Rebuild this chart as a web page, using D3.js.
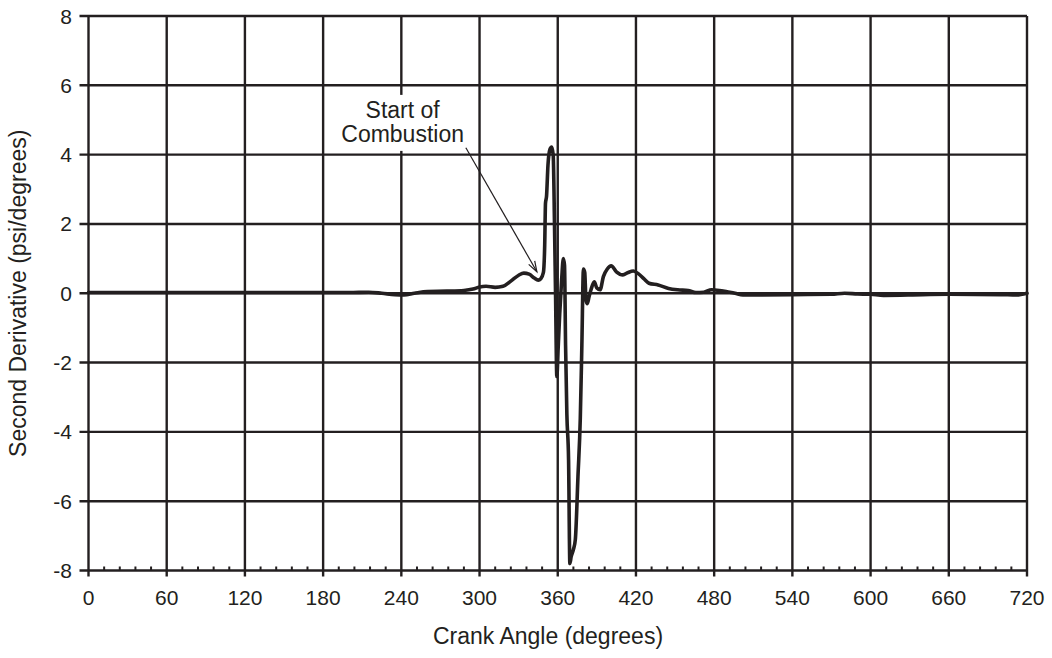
<!DOCTYPE html>
<html>
<head>
<meta charset="utf-8">
<script src="https://cdn.jsdelivr.net/npm/d3@7"></script>
<style>
  html, body { margin: 0; padding: 0; background: #fff; }
  svg { display: block; }
  text { font-family: "Liberation Sans", Arial, Helvetica, sans-serif; fill: #231f20; }
</style>
</head>
<body>
<svg id="chart" width="1052" height="658"></svg>
<script>
// Crank angle (degrees) and second derivative of cylinder pressure (psi/deg^2)
const crankAngle = [
  0, 30, 60, 90, 120, 150, 180, 200, 215, 225, 235, 242, 250, 260, 275, 288, 295,
  300, 305, 312, 318, 324, 330, 334, 338, 342, 345, 347, 349, 350, 350.6, 351.4,
  352.5, 354, 355.3, 356.5, 357.5, 358.3, 359.3, 360.3, 361.5, 363, 364.3, 365.2,
  366, 367, 368.3, 369.3, 370.3, 372, 373.5, 375.5, 377.3, 378.5,
  379.7, 380.7, 381.7, 382.7, 384, 385.5, 388, 390, 392.5, 395, 398, 401, 405,
  410, 414, 418, 422, 426, 430, 437, 445, 452, 460, 466, 472, 478, 484, 490, 496,
  502, 540, 570, 580, 590, 600, 610, 640, 660, 700, 712, 720
];
const secondDerivative = [
  0.02, 0.02, 0.02, 0.02, 0.02, 0.02, 0.02, 0.02, 0.03, 0.0, -0.04, -0.05, 0.0, 0.05, 0.06, 0.08, 0.12,
  0.18, 0.2, 0.17, 0.2, 0.35, 0.52, 0.58, 0.55, 0.44, 0.38, 0.42, 0.6, 1.4, 2.6, 2.8,
  3.7, 4.15, 4.22, 4.0, 2.0, 0.0, -2.4, -1.6, -0.6, 0.4, 1.0, 0.8,
  -1.5, -3.5, -4.8, -7.8, -7.6, -7.4, -7.1, -5.3, -3.6, -1.5,
  0.7, 0.6, -0.2, -0.3, -0.1, 0.1, 0.33, 0.15, 0.1, 0.48, 0.7, 0.79, 0.62,
  0.53, 0.6, 0.64, 0.56, 0.42, 0.29, 0.24, 0.14, 0.1, 0.08, 0.02, 0.03, 0.1, 0.08, 0.04, 0.0,
  -0.05, -0.04, -0.03, 0.0, -0.02, -0.03, -0.06, -0.04, -0.03, -0.04, -0.05, 0.0
];

const xTicks = [0, 60, 120, 180, 240, 300, 360, 420, 480, 540, 600, 660, 720];
const xMinorTicks = d3.range(0, 721, 12);
const yTicks = [-8, -6, -4, -2, 0, 2, 4, 6, 8];

// Annotation: label position and arrow ends, in data units
const noteLines = ["Start of", "Combustion"];
const noteAnchor = [241, 5.06];
const arrowFrom = [289.5, 4.2];
const arrowTo = [344, 0.62];

const ink = "#231f20";
const svg = d3.select("#chart");

const x = d3.scaleLinear().domain([0, 720]).range([88.5, 1027]);
const y = d3.scaleLinear().domain([-8, 8]).range([570.5, 16]);

// Grid
const g = svg.append("g");
g.selectAll(".vgrid").data(xTicks).join("line")
  .attr("x1", d => x(d)).attr("x2", d => x(d))
  .attr("y1", y(8)).attr("y2", y(-8) + 6)
  .attr("stroke", ink).attr("stroke-width", 2.4);
g.selectAll(".hgrid").data(yTicks).join("line")
  .attr("x1", x(0) - 9).attr("x2", x(720))
  .attr("y1", d => y(d)).attr("y2", d => y(d))
  .attr("stroke", ink).attr("stroke-width", 2.4);

// Minor ticks along the bottom edge, pointing inward
g.selectAll(".minor").data(xMinorTicks.filter(d => d % 60 !== 0)).join("line")
  .attr("x1", d => x(d)).attr("x2", d => x(d))
  .attr("y1", y(-8)).attr("y2", y(-8) - 4)
  .attr("stroke", ink).attr("stroke-width", 2);

// Tick labels
svg.append("g").selectAll("text").data(xTicks).join("text")
  .attr("x", d => x(d)).attr("y", 605)
  .attr("text-anchor", "middle")
  .attr("font-size", 21)
  .text(d => d);
svg.append("g").selectAll("text").data(yTicks).join("text")
  .attr("x", 72).attr("y", d => y(d))
  .attr("dy", "0.36em")
  .attr("text-anchor", "end")
  .attr("font-size", 21)
  .text(d => d);

// Axis titles
svg.append("text")
  .attr("x", 548).attr("y", 644)
  .attr("text-anchor", "middle").attr("font-size", 23)
  .text("Crank Angle (degrees)");
svg.append("text")
  .attr("transform", `translate(26,${(y(8) + y(-8)) / 2}) rotate(-90)`)
  .attr("text-anchor", "middle").attr("font-size", 23)
  .text("Second Derivative (psi/degrees)");

// Data line
const pts = crankAngle.map((a, i) => [a, secondDerivative[i]]);
svg.append("path")
  .datum(pts)
  .attr("fill", "none")
  .attr("stroke", ink)
  .attr("stroke-width", 3.6)
  .attr("stroke-linejoin", "round")
  .attr("stroke-linecap", "round")
  .attr("d", d3.line().x(d => x(d[0])).y(d => y(d[1])).curve(d3.curveMonotoneX));

// Annotation label with white backing
const note = svg.append("g");
const bg = note.append("rect").attr("fill", "#fff");
const label = note.append("text")
  .attr("text-anchor", "middle").attr("font-size", 23);
noteLines.forEach((t, i) => {
  label.append("tspan")
    .attr("x", x(noteAnchor[0]))
    .attr("y", y(noteAnchor[1]) + i * 24)
    .text(t);
});
const bb = label.node().getBBox();
bg.attr("x", bb.x - 2).attr("y", bb.y - 2)
  .attr("width", bb.width + 4).attr("height", bb.height + 6);

// Arrow
const ax1 = x(arrowFrom[0]), ay1 = y(arrowFrom[1]);
const ax2 = x(arrowTo[0]), ay2 = y(arrowTo[1]);
svg.append("line")
  .attr("x1", ax1).attr("y1", ay1).attr("x2", ax2).attr("y2", ay2)
  .attr("stroke", ink).attr("stroke-width", 1.2);
const ang = Math.atan2(ay2 - ay1, ax2 - ax1);
const head = 11, spread = 0.32;
svg.append("path")
  .attr("fill", "none").attr("stroke", ink).attr("stroke-width", 1.2)
  .attr("d", `M${ax2 - head * Math.cos(ang - spread)},${ay2 - head * Math.sin(ang - spread)}
              L${ax2},${ay2}
              L${ax2 - head * Math.cos(ang + spread)},${ay2 - head * Math.sin(ang + spread)}`);
</script>
</body>
</html>
